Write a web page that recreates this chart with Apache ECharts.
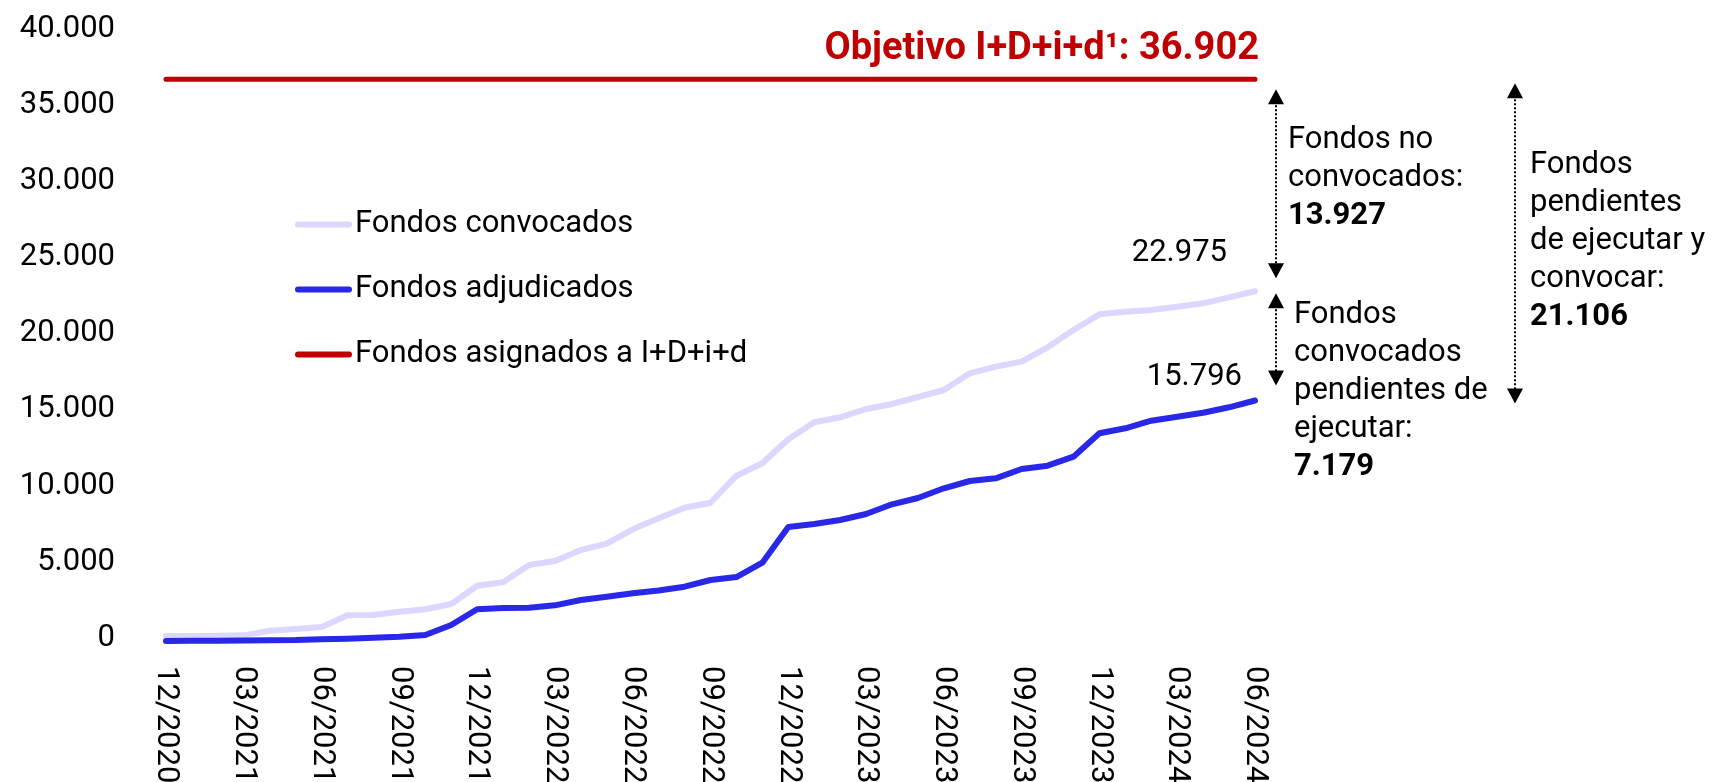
<!DOCTYPE html>
<html>
<head>
<meta charset="utf-8">
<script src="https://cdn.jsdelivr.net/npm/echarts@6/dist/echarts.min.js"></script>
<style>
  html, body { margin: 0; padding: 0; background: #fff; }
  #chart { width: 1714px; height: 782px; }
</style>
</head>
<body>
<div id="chart"></div>
<script>
// meses (eje X)
const meses = [
  '12/2020',
  '01/2021', '02/2021', '03/2021', '04/2021', '05/2021', '06/2021',
  '07/2021', '08/2021', '09/2021', '10/2021', '11/2021', '12/2021',
  '01/2022', '02/2022', '03/2022', '04/2022', '05/2022', '06/2022',
  '07/2022', '08/2022', '09/2022', '10/2022', '11/2022', '12/2022',
  '01/2023', '02/2023', '03/2023', '04/2023', '05/2023', '06/2023',
  '07/2023', '08/2023', '09/2023', '10/2023', '11/2023', '12/2023',
  '01/2024', '02/2024', '03/2024', '04/2024', '05/2024', '06/2024'
];

// fondos convocados (M€)
const convocados = [
  330, 330, 350, 372, 677, 788, 920, 1688, 1708, 1924,
  2082, 2430, 3632, 3855, 4992, 5255, 5977, 6400, 7336, 8059,
  8755, 9083, 10857, 11671, 13248, 14364, 14692, 15238, 15566, 16026,
  16486, 17582, 18020, 18348, 19290, 20426, 21457, 21628, 21740, 21957,
  22180, 22574, 22975
];

// fondos adjudicados (M€)
const adjudicados = [
  0, 10, 20, 30, 50, 60, 110, 150, 217, 282,
  394, 1051, 2082, 2167, 2189, 2343, 2693, 2912, 3131, 3323,
  3566, 4006, 4203, 5143, 7488, 7685, 7947, 8341, 8978, 9392,
  10029, 10509, 10686, 11297, 11514, 12105, 13642, 13970, 14469, 14732,
  14995, 15350, 15796
];

// objetivo I+D+i+d
const objetivo = 36902;

const FONT = 'Roboto';
const C_CONV = '#DCD7FE';
const C_ADJ = '#2828E6';
const C_OBJ = '#C00000';

// icono de leyenda: trazo grueso con extremos redondeados
const ICONO = 'path://M3,0H54A3,3,0,0,1,54,6H3A3,3,0,0,1,3,0Z';

const fmt = v => String(Math.round(v)).replace(/\B(?=(\d{3})+(?!\d))/g, '.');

const ultimo = meses[meses.length - 1];
const ultConv = convocados[convocados.length - 1];
const ultAdj = adjudicados[adjudicados.length - 1];

const chart = echarts.init(document.getElementById('chart'));

chart.setOption({
  animation: false,
  textStyle: { fontFamily: FONT },
  grid: { left: 166, right: 459, top: 32, bottom: 141, outerBoundsMode: 'none' },
  legend: {
    orient: 'vertical',
    left: 290,
    top: 204,
    itemWidth: 57,
    itemHeight: 6,
    itemGap: 34,
    icon: ICONO,
    textStyle: { fontFamily: FONT, fontSize: 31, color: '#000', padding: [0, 0, 13, -2] },
    data: [
      { name: 'Fondos convocados', icon: ICONO },
      { name: 'Fondos adjudicados', icon: ICONO },
      { name: 'Fondos asignados a I+D+i+d', icon: ICONO }
    ]
  },
  xAxis: {
    type: 'category',
    data: meses,
    boundaryGap: false,
    axisLine: { show: false },
    axisTick: { show: false },
    splitLine: { show: false },
    axisLabel: {
      interval: 2,
      rotate: -90,
      margin: 25,
      fontFamily: FONT,
      fontSize: 31,
      color: '#000'
    }
  },
  yAxis: {
    type: 'value',
    min: 0,
    max: 40000,
    interval: 5000,
    axisLine: { show: false },
    axisTick: { show: false },
    splitLine: { show: false },
    axisLabel: {
      margin: 51,
      fontFamily: FONT,
      fontSize: 31,
      color: '#000',
      verticalAlign: 'bottom',
      lineHeight: 6,
      formatter: fmt
    }
  },
  series: [
    {
      name: 'Fondos convocados',
      type: 'line',
      data: convocados,
      symbol: 'none',
      lineStyle: { color: C_CONV, width: 6, cap: 'round', join: 'round' },
      itemStyle: { color: C_CONV },
      z: 2,
      markPoint: {
        symbol: 'circle',
        symbolSize: 1,
        itemStyle: { color: 'rgba(0,0,0,0)' },
        label: {
          show: true,
          position: 'inside',
          align: 'right',
          verticalAlign: 'middle',
          offset: [-28, -38],
          fontFamily: FONT,
          fontSize: 31,
          color: '#000',
          formatter: p => fmt(p.value)
        },
        data: [{ coord: [ultimo, ultConv], value: ultConv }]
      }
    },
    {
      name: 'Fondos adjudicados',
      type: 'line',
      data: adjudicados,
      symbol: 'none',
      lineStyle: { color: C_ADJ, width: 6, cap: 'round', join: 'round' },
      itemStyle: { color: C_ADJ },
      z: 3,
      markPoint: {
        symbol: 'circle',
        symbolSize: 1,
        itemStyle: { color: 'rgba(0,0,0,0)' },
        label: {
          show: true,
          position: 'inside',
          align: 'right',
          verticalAlign: 'middle',
          offset: [-13, -23],
          fontFamily: FONT,
          fontSize: 31,
          color: '#000',
          formatter: p => fmt(p.value)
        },
        data: [{ coord: [ultimo, ultAdj], value: ultAdj }]
      }
    },
    {
      name: 'Fondos asignados a I+D+i+d',
      type: 'line',
      data: meses.map(() => objetivo),
      symbol: 'none',
      lineStyle: { color: C_OBJ, width: 5, cap: 'round' },
      itemStyle: { color: C_OBJ },
      z: 4,
      markPoint: {
        symbol: 'circle',
        symbolSize: 1,
        itemStyle: { color: 'rgba(0,0,0,0)' },
        label: {
          show: true,
          position: 'inside',
          align: 'right',
          verticalAlign: 'middle',
          offset: [4, -30],
          fontFamily: FONT,
          fontSize: 38,
          fontWeight: 'bold',
          color: C_OBJ,
          formatter: p => 'Objetivo I+D+i+d\u00B9: ' + fmt(p.value)
        },
        data: [{ coord: [ultimo, objetivo], value: objetivo }]
      }
    }
  ]
});

// flechas punteadas entre niveles
function flecha(x, yTop, yBot) {
  const h = 15, w = 16;
  return [
    { type: 'line', shape: { x1: x, y1: yTop + 4, x2: x, y2: yBot - 4 },
      style: { stroke: '#000', lineWidth: 2, lineDash: [2, 2] } },
    { type: 'polygon', shape: { points: [[x, yTop], [x - w / 2, yTop + h], [x + w / 2, yTop + h]] },
      style: { fill: '#000' } },
    { type: 'polygon', shape: { points: [[x, yBot], [x - w / 2, yBot - h], [x + w / 2, yBot - h]] },
      style: { fill: '#000' } }
  ];
}

const py = v => chart.convertToPixel({ yAxisIndex: 0 }, v);

const textoStyle = (txt) => ({
  text: txt,
  font: '31px ' + FONT,
  fill: '#000',
  lineHeight: 38,
  rich: { b: { fontFamily: FONT, fontSize: 31, fontWeight: 'bold', lineHeight: 38, fill: '#000' } }
});

const graficos = []
  .concat(flecha(1276, py(objetivo) + 10, py(ultConv) - 13))
  .concat(flecha(1276, py(ultConv) + 2, py(ultAdj) - 15))
  .concat(flecha(1515, py(objetivo) + 4, py(ultAdj) + 3));

graficos.push(
  { type: 'text', x: 1288, y: 121,
    style: textoStyle('Fondos no\nconvocados:\n{b|' + fmt(objetivo - ultConv) + '}') },
  { type: 'text', x: 1294, y: 296,
    style: textoStyle('Fondos\nconvocados\npendientes de\nejecutar:\n{b|' + fmt(ultConv - ultAdj) + '}') },
  { type: 'text', x: 1530, y: 146,
    style: textoStyle('Fondos\npendientes\nde ejecutar y\nconvocar:\n{b|' + fmt(objetivo - ultAdj) + '}') }
);

chart.setOption({ graphic: graficos });
</script>
</body>
</html>
